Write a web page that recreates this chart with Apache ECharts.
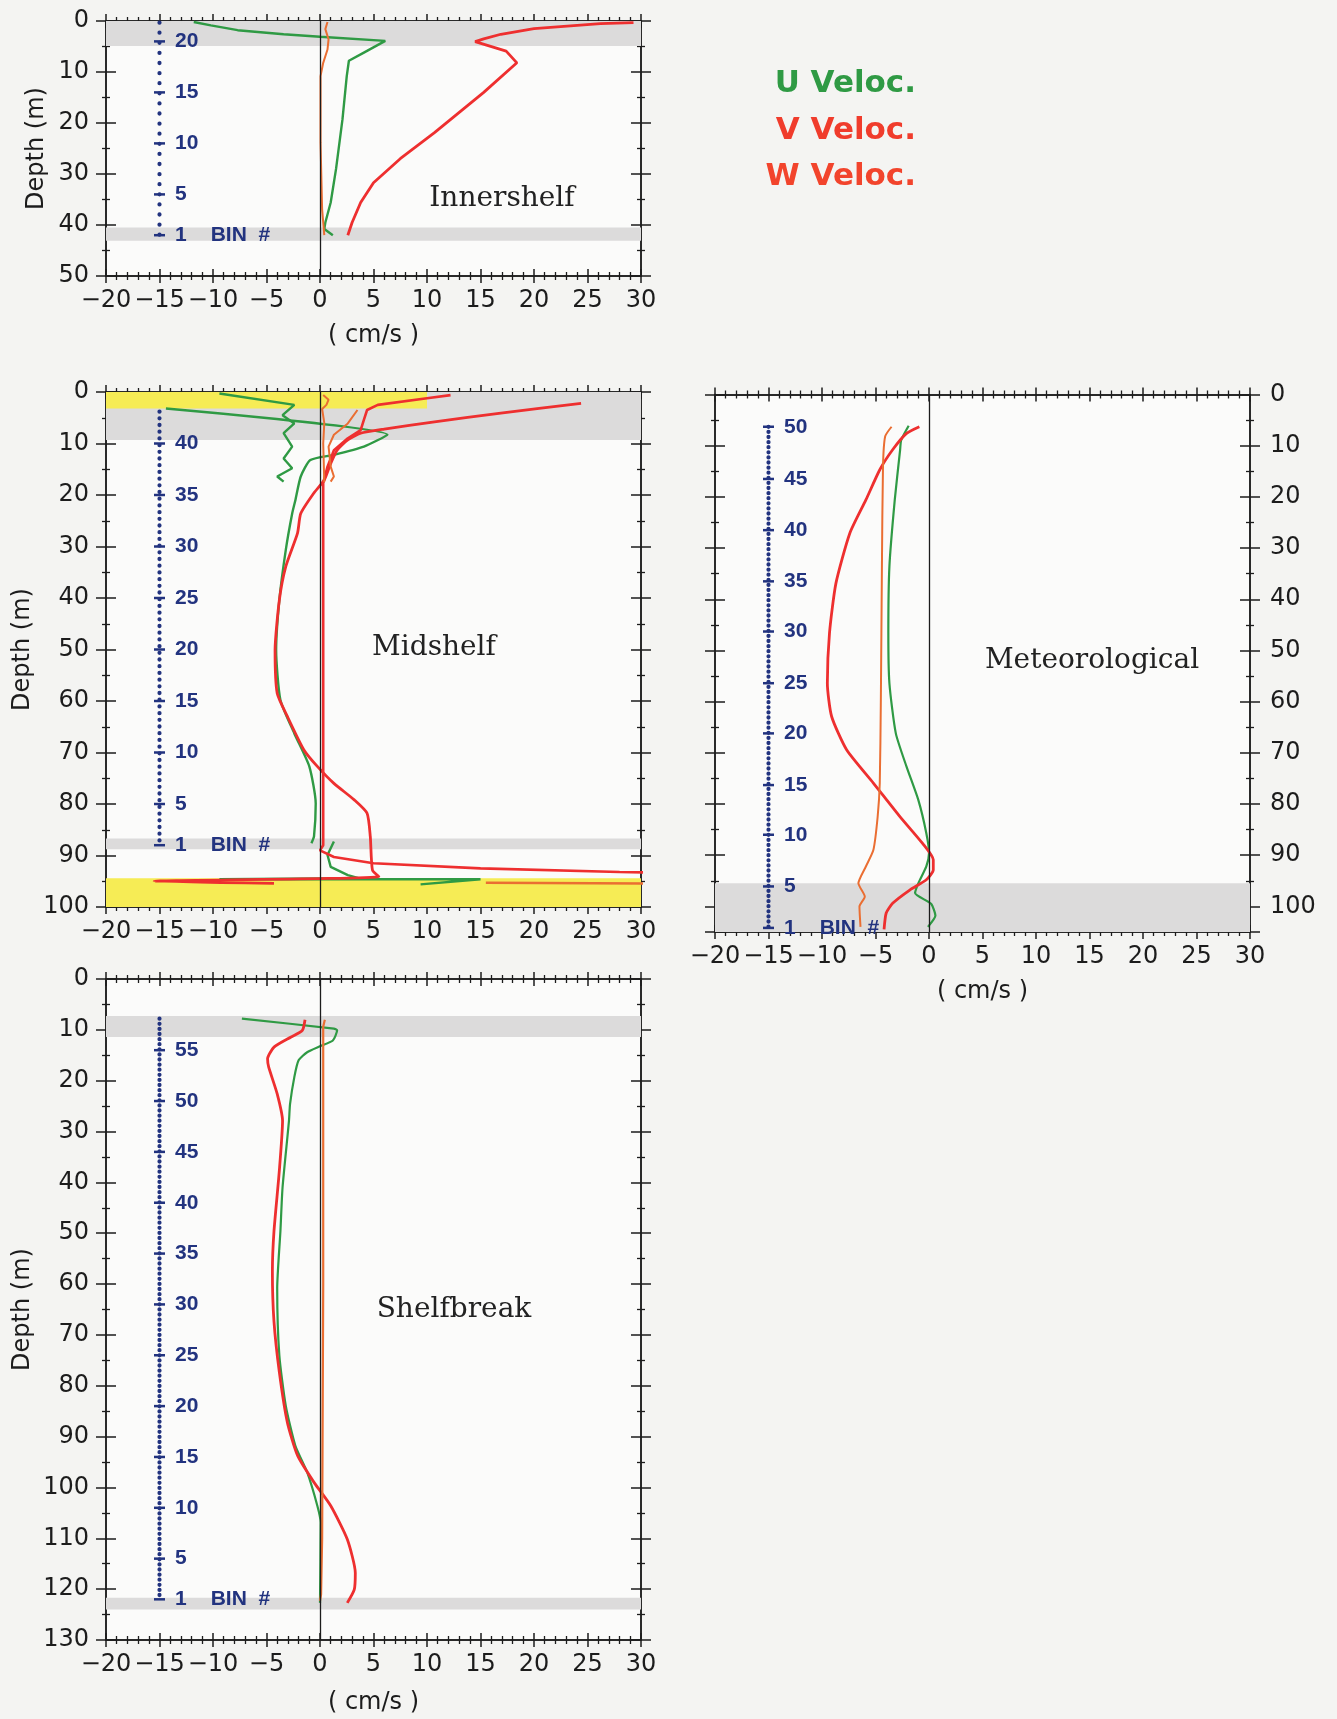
<!DOCTYPE html>
<html><head><meta charset="utf-8">
<script src="https://cdn.jsdelivr.net/npm/echarts@6/dist/echarts.min.js"></script>
<style>html,body{margin:0;padding:0;background:#f4f4f2;}#c{width:1337px;height:1719px;}</style>
</head><body><div id="c"></div>
<script>
// ---------------- DATA (velocity cm/s, depth m) ----------------
// Innershelf
const innerU = [[-11.8,0.2],[-10.2,0.85],[-7.7,1.8],[-3.4,2.6],[0,3.1],[6.1,3.9],[4.1,6.2],[2.7,7.8],[2.5,10.8],[2.1,19.3],[1.5,29],[1.0,35.6],[0.5,39.5],[0.4,40.8],[1.2,42]];
const innerV = [[29.3,0.3],[26.2,0.5],[20,1.5],[16.9,2.6],[15.3,3.5],[14.5,4.05],[17.4,5.9],[18.4,8.2],[15.3,14],[10.7,21.9],[7.5,27],[5.0,31.7],[3.8,35.6],[3.0,39.5],[2.6,42]];
const innerW = [[0.7,0.2],[0.5,1.6],[0.8,3.6],[0.7,5.6],[0.3,8.2],[0.05,10.8],[0.05,23.9],[0.2,37],[0.4,42]];
const innerBinDepths = [4,14,24,34,42];
const innerBinLabels = ['20','15','10','5','1'];
const innerBinLine = [0.3,42];
const innerGrayBands = [[0,4.9],[40.5,43.1]];

// Midshelf
const midUa = [[-9.4,0.3],[-2.4,2.5],[-3.5,4.5],[-2.4,6.1],[-3.4,8],[-2.6,10.6],[-3.4,12.9],[-2.6,14.8],[-4,16.4],[-3.4,17.4]];
const midUb = [[-14.4,3.2],[6.3,8.3],[4.1,10.6],[1.3,12.2],[-0.9,13.2],[-1.8,16.4],[-2.3,21],[-2.6,23.6],[-3.2,30.7],[-3.8,40.4],[-4.1,50.1],[-3.7,59.8],[-2.4,66.3],[-1.0,72.7],[-0.4,79.9],[-0.56,86.3],[-0.8,87.6]];
const midUbBottom = [[1.3,87.3],[0.7,89.9],[1.0,92.2],[2.6,93.8],[3.6,94.4],[-9.4,94.6],[15,94.6],[9.4,95.6]];
const midVa = [[12.2,0.6],[10,1.2],[5.4,2.5],[4.4,3.5],[4.1,5.4],[3.8,7.4],[2.6,9],[1.3,11.3],[0.7,14.5],[0.3,17.7],[0.3,40],[0.3,88],[0,89],[1.3,90.3],[5,91.5],[15,92.5],[28,93.2],[40,93.6]];
const midVb = [[24.4,2.2],[16.9,4.1],[10.7,5.8],[6,7.2],[3.8,8.0],[2.6,9.3],[1.6,11.3],[1.0,13.9],[0.4,17.1],[-0.6,19.7],[-1.8,23.6],[-2.1,27.4],[-3.2,33.9],[-3.8,40.4],[-4.2,50.1],[-4.0,58.5],[-3.05,63],[-1.5,69.5],[-0.25,72.7],[1.3,76],[3.2,79.2],[4.4,81.8],[4.7,86.3],[4.9,92.8],[5.5,94.1],[-15.5,95.0],[-4.3,95.4]];
const midWa = [[0.3,0.6],[0.8,1.5],[0.6,2.5],[0.2,3.3],[0.4,6],[0.3,10],[0.4,17.5]];
const midWb = [[3.5,3.5],[2.6,6.1],[1.3,8.3],[0.8,10.6],[1.0,14.5],[1.3,16.4],[1.0,17.4]];
const midWbBottom = [[15.5,95.3],[25.6,95.4],[40,95.5]];
const midBinDepths = [10,20,30,40,50,60,70,80,88];
const midBinLabels = ['40','35','30','25','20','15','10','5','1'];
const midBinLine = [3.8,88];
const midGrayBands = [[0,9.3],[86.7,88.8]];
const midYellowBands = [[-20,10,0,3.2],[-20,30,94.4,100]];

// Meteorological
const metU = [[-1.9,6.1],[-2.6,8.9],[-2.7,10.8],[-3.2,20.6],[-3.7,33.6],[-3.8,46.6],[-3.7,56.4],[-3.1,66.2],[-2.1,72.7],[-1.0,79.2],[-0.25,85.7],[0,89.6],[-0.25,92.2],[-1.0,95.5],[-1.3,97.4],[0.2,99.5],[0.6,101.8],[-0.1,104]];
const metV = [[-0.9,6.3],[-2.1,7.6],[-3.4,10.8],[-4.6,14.7],[-5.9,20.6],[-7.4,27.1],[-8.7,36.9],[-9.3,46.6],[-9.5,56.4],[-9.1,62.9],[-7.7,69.4],[-5.2,75.9],[-2.7,82.5],[-0.6,87.7],[0.4,90.9],[0.4,92.9],[-0.25,94.8],[-1.8,96.8],[-3.4,99.4],[-4.0,101.3],[-4.2,104.5]];
const metW = [[-3.5,6.3],[-4.1,8.2],[-4.3,14.1],[-4.4,33.6],[-4.5,59.7],[-4.6,75.9],[-4.8,82.5],[-5.2,89],[-5.9,92.2],[-6.6,95.5],[-6.0,98.1],[-6.5,100],[-6.4,104]];
const metBinDepths = [6.3,16.5,26.5,36.5,46.3,56.4,66.2,76.3,86,96.1,104.2];
const metBinLabels = ['50','45','40','35','30','25','20','15','10','5','1'];
const metBinLine = [6.3,104.8];
const metGrayBands = [[95.5,105]];

// Shelfbreak
const shelfU = [[-7.3,7.8],[1.3,9.75],[1.6,10.1],[1.2,12.1],[0.05,13.2],[-1.2,14.4],[-2.0,16],[-2.4,19.3],[-2.8,24.6],[-2.9,27.9],[-3.5,41],[-3.7,49.6],[-4.0,60.8],[-3.8,74],[-3.2,83.9],[-2.3,91.8],[-1.2,97],[-0.25,103.6],[0.06,106.9],[0,122.7]];
const shelfV = [[-1.4,8],[-1.65,10.1],[-2.7,11.4],[-4.3,13.4],[-4.9,15.7],[-4.8,17.3],[-4.0,22.6],[-3.5,27.9],[-3.8,37.7],[-4.3,49.6],[-4.45,57.5],[-4.3,67.4],[-3.8,77.3],[-3.05,87.2],[-2.1,93.7],[-0.56,99],[1.0,103.6],[2.55,110.2],[3.3,116.8],[3.2,120.1],[2.55,122.7]];
const shelfW = [[0.45,8],[0.3,9.4],[0.3,60],[0.2,110],[0.1,121],[0,122.3]];
const shelfBinDepths = [14,24,34,44,54,64,74,84,94,104,114,122];
const shelfBinLabels = ['55','50','45','40','35','30','25','20','15','10','5','1'];
const shelfBinLine = [7.8,122];
const shelfGrayBands = [[7.3,11.4],[121.7,124]];

const binX = -15;
const xTickMin = -20, xTickMax = 30;

// ---------------- STYLE ----------------
const FONT = 'DejaVu Sans';
const INK = '#1c1c1c';
const NAVY = '#22337f';
const CU = '#2f9a44', CV = '#ee2f2f', CW = '#ea6e32';
const GRAY = '#dcdbdb', YELLOW = '#f6ec55';

const chart = echarts.init(document.getElementById('c'), null, {renderer:'canvas'});

const grids = [
  {left:106, top:21, width:535, height:255},
  {left:106, top:392, width:535, height:515},
  {left:715, top:394.5, width:535, height:537.5},
  {left:106, top:979, width:535, height:661}
].map(g => Object.assign({show:true, backgroundColor:'#fbfbfa', borderWidth:0}, g));

const xAxes = [], yAxes = [];
function fmtX(v){ return String(v).replace('-', '\u2212'); }
function addAxes(g, yMax, cfg){
  const axLine = {onZero:false, lineStyle:{color:INK, width:1.5}};
  const xb = {type:'value', gridIndex:g, min:xTickMin, max:xTickMax, interval:5, splitLine:{show:false}, axisLine:axLine,
    minorTick:{show:true, splitNumber:5, length:4, lineStyle:{color:INK, width:1.3}}};
  const tk = (inside, len) => ({show:true, inside:inside, length:len, lineStyle:{color:INK, width:1.5}});
  xAxes.push(Object.assign({}, xb, {position:'bottom', axisTick:tk(false,7),
    axisLabel:{show:true, margin:13, fontSize:24, fontFamily:FONT, color:INK, formatter:fmtX},
    name: cfg.xName ? '( cm/s )' : '', nameLocation:'middle', nameGap: cfg.xNameGap || 48,
    nameTextStyle:{fontSize:24, fontFamily:FONT, color:INK}}));
  xAxes.push(Object.assign({}, xb, {position:'bottom', axisTick:tk(true,7), axisLabel:{show:false}}));
  xAxes.push(Object.assign({}, xb, {position:'top', axisTick:tk(false,7), axisLabel:{show:false}}));
  xAxes.push(Object.assign({}, xb, {position:'top', axisTick:tk(true,7), axisLabel:{show:false}}));
  const yb = {type:'value', gridIndex:g, min:0, max:yMax, interval:10, inverse:true, splitLine:{show:false}, axisLine:axLine,
    minorTick:{show:true, splitNumber:2, length:4, lineStyle:{color:INK, width:1.3}}};
  const ylab = {show:true, fontSize:24, fontFamily:FONT, color:INK, formatter: v => (v % 10 === 0 ? String(v) : '')};
  yAxes.push(Object.assign({}, yb, {position:'left', axisTick:tk(false,10),
    axisLabel: cfg.leftLabels ? Object.assign({margin:17}, ylab) : {show:false},
    name: cfg.yName ? 'Depth (m)' : '', nameLocation:'middle', nameGap: cfg.yNameGap || 71, nameRotate:90,
    nameTextStyle:{fontSize:24, fontFamily:FONT, color:INK}}));
  yAxes.push(Object.assign({}, yb, {position:'left', axisTick:tk(true,10), axisLabel:{show:false}}));
  yAxes.push(Object.assign({}, yb, {position:'right', axisTick:tk(false,10),
    axisLabel: cfg.rightLabels ? Object.assign({margin:20}, ylab) : {show:false}}));
  yAxes.push(Object.assign({}, yb, {position:'right', axisTick:tk(true,10), axisLabel:{show:false}}));
}
addAxes(0, 50, {xName:true, xNameGap:48, leftLabels:true, yName:true, yNameGap:57});
addAxes(1, 100, {xName:false, leftLabels:true, yName:true, yNameGap:71});
addAxes(2, 105, {xName:true, xNameGap:48, rightLabels:true});
addAxes(3, 130, {xName:true, xNameGap:51, leftLabels:true, yName:true, yNameGap:71});

const series = [];
function ax(g){ return {xAxisIndex:4*g, yAxisIndex:4*g}; }
function curve(g, name, data, color, width, opts){
  series.push(Object.assign({type:'line', name:name, data:data, showSymbol:false, symbol:'none',
    lineStyle:{color:color, width:width}, itemStyle:{color:color}, z:3, animation:false, silent:true}, ax(g), opts || {}));
}
function bandData(grays, yellows){
  const out = [];
  grays.forEach(b => out.push([{xAxis:xTickMin, yAxis:b[0], itemStyle:{color:GRAY}}, {xAxis:xTickMax, yAxis:b[1]}]));
  (yellows || []).forEach(b => out.push([{xAxis:b[0], yAxis:b[2], itemStyle:{color:YELLOW}}, {xAxis:b[1], yAxis:b[3]}]));
  return out;
}
function bins(g, line, depths, labels, dash, grays, yellows){
  series.push(Object.assign({type:'line', data:[[binX, line[0]],[binX, line[1]]], showSymbol:false, symbol:'none',
    lineStyle:{color:NAVY, width:4.2, type:dash, cap:'round'}, z:2, animation:false, silent:true,
    markArea:{silent:true, label:{show:false}, data:bandData(grays, yellows)},
    markLine:{silent:true, symbol:['none','none'], label:{show:false}, animation:false,
      lineStyle:{color:INK, width:1.3, type:'solid'}, data:[{xAxis:0}]}}, ax(g)));
  const lf = {color:NAVY, fontSize:21, fontWeight:'bold', fontFamily:'Liberation Sans'};
  series.push(Object.assign({type:'scatter', symbol:'rect', symbolSize:[11,2.5], itemStyle:{color:NAVY, opacity:1}, z:3, animation:false, silent:true,
    data: depths.map((d,i) => ({name:labels[i], value:[binX, d]})),
    label:Object.assign({show:true, position:'right', distance:10, opacity:1,
      formatter: p => p.name === '1' ? '{n|1}{b|BIN  #}' : p.name,
      rich:{n:Object.assign({}, lf), b:Object.assign({padding:[0,0,0,24]}, lf)}}, lf)}, ax(g)));
}

// Innershelf
bins(0, innerBinLine, innerBinDepths, innerBinLabels, [0.1, 10], innerGrayBands);
curve(0, 'U Veloc.', innerU, CU, 2.4);
curve(0, 'V Veloc.', innerV, CV, 2.8);
curve(0, 'W Veloc.', innerW, CW, 2.0);
// Midshelf
bins(1, midBinLine, midBinDepths, midBinLabels, [0.1, 6.6], midGrayBands, midYellowBands);
curve(1, 'U Veloc.', midUa, CU, 2.4);
curve(1, 'U Veloc.', midUb, CU, 2.4, {smooth:0.2});
curve(1, 'U Veloc.', midUbBottom, CU, 2.4);
curve(1, 'V Veloc.', midVa, CV, 2.6, {clip:false});
curve(1, 'V Veloc.', midVb, CV, 2.8, {smooth:0.2});
curve(1, 'W Veloc.', midWa, CW, 2.0);
curve(1, 'W Veloc.', midWb, CW, 2.0);
curve(1, 'W Veloc.', midWbBottom, CW, 2.4, {clip:false});
// Meteorological
bins(2, metBinLine, metBinDepths, metBinLabels, [0.1, 5], metGrayBands);
curve(2, 'U Veloc.', metU, CU, 2.2, {smooth:0.2});
curve(2, 'V Veloc.', metV, CV, 2.8, {smooth:0.2});
curve(2, 'W Veloc.', metW, CW, 2.0, {smooth:0.2});
// Shelfbreak
bins(3, shelfBinLine, shelfBinDepths, shelfBinLabels, [0.1, 5], shelfGrayBands);
curve(3, 'U Veloc.', shelfU, CU, 2.2, {smooth:0.2});
curve(3, 'V Veloc.', shelfV, CV, 2.8, {smooth:0.2});
curve(3, 'W Veloc.', shelfW, CW, 2.2);

const legendBase = {icon:'none', selectedMode:false, padding:0, right:421, itemGap:0,
  textStyle:{fontSize:31, fontWeight:'bold', fontFamily:FONT}};
const legends = [
  Object.assign({}, legendBase, {top:68, data:[{name:'U Veloc.', textStyle:{color:CU}}]}),
  Object.assign({}, legendBase, {top:115, data:[{name:'V Veloc.', textStyle:{color:'#f03c2c'}}]}),
  Object.assign({}, legendBase, {top:161, data:[{name:'W Veloc.', textStyle:{color:'#f2442c'}}]})
];

function title(text, x, y){
  return {type:'text', silent:true, style:{text:text, x:x, y:y, fill:'#222', font:'28px "DejaVu Serif"', align:'center', verticalAlign:'middle', textAlign:'center', textVerticalAlign:'middle'}};
}

chart.setOption({
  backgroundColor:'#f4f4f2',
  animation:false,
  grid: grids,
  xAxis: xAxes,
  yAxis: yAxes,
  legend: legends,
  series: series,
  graphic: [
    title('Innershelf', 502, 199),
    title('Midshelf', 434, 648),
    title('Meteorological', 1092, 661),
    title('Shelfbreak', 454, 1310)
  ]
});
</script></body></html>
